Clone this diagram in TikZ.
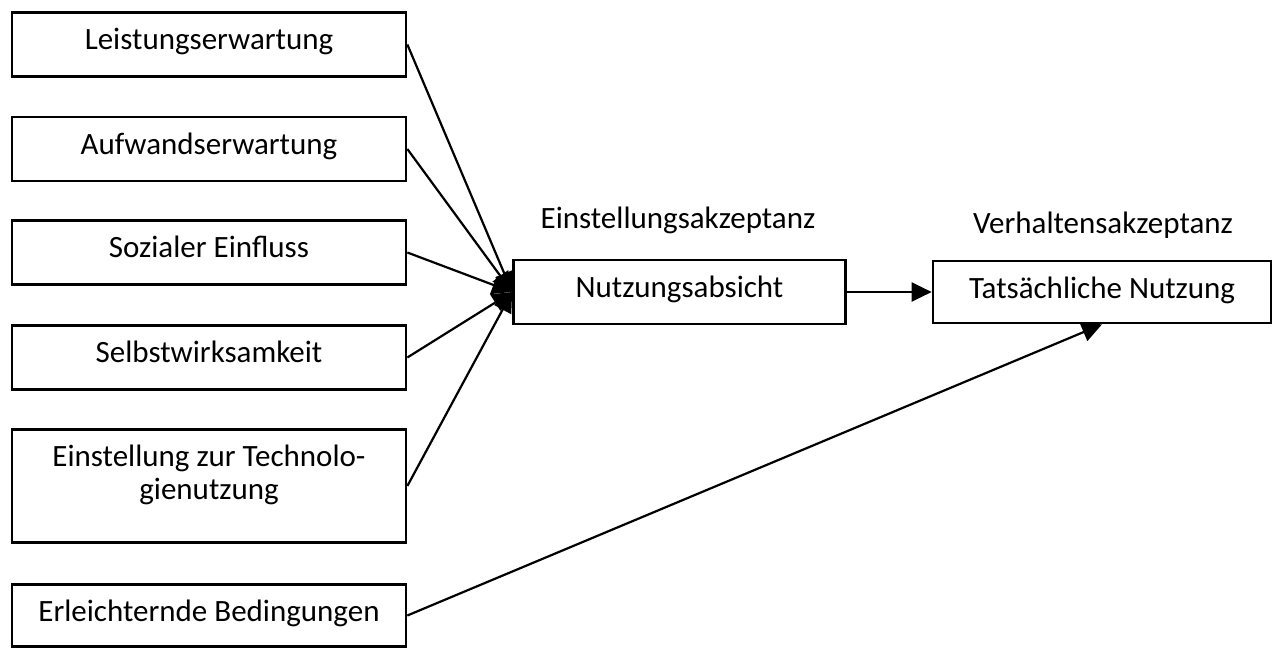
\documentclass[tikz,border=0pt]{standalone}
\usepackage{fontspec}
\setmainfont{Carlito}
\usetikzlibrary{arrows.meta,calc}
\begin{document}
\begin{tikzpicture}[x=1pt,y=-1pt,
  box/.style={draw=black,line width=2.7pt,fill=white,inner sep=0pt,minimum width=394pt,minimum height=64pt},
  txt/.style={inner sep=0pt,anchor=base,font=\fontsize{31}{33}\selectfont},
  arr/.style={line width=2.2pt,-{Triangle[length=20pt,width=19pt]}}]
\useasboundingbox (0,0) rectangle (1278,648);
% boxes
\node[box] (b1) at (209,44.5) {};
\node[box] (b2) at (209,149) {};
\node[box] (b3) at (209,252.5) {};
\node[box] (b4) at (209,357.5) {};
\node[box,minimum height=113pt] (b5) at (209,486) {};
\node[box,minimum height=62pt] (b6) at (209,615.5) {};
\node[box,minimum width=332pt] (nu) at (679.5,292) {};
\node[box,minimum width=338pt,minimum height=62pt] (tn) at (1102,292) {};
% texts
\node[txt] (t1) at ($(b1.north)+(0,38.5)$) {Leistungserwartung};
\node[txt] (t2) at ($(b2.north)+(0,38.5)$) {Aufwandserwartung};
\node[txt] (t3) at ($(b3.north)+(0,38.5)$) {Sozialer Einfluss};
\node[txt] (t4) at ($(b4.north)+(0,38.5)$) {Selbstwirksamkeit};
\node[txt] (t5a) at ($(b5.north)+(0,38.5)$) {Einstellung zur Technolo-};
\node[txt] (t5b) at ($(b5.north)+(0,71.5)$) {gienutzung};
\node[txt] (t6) at ($(b6.north)+(0,38.5)$) {Erleichternde Bedingungen};
\node[txt] (tnu) at ($(nu.north)+(0,38.5)$) {Nutzungsabsicht};
\node[txt] (ttn) at ($(tn.north)+(0,39)$) {Tatsächliche Nutzung};
\node[txt] (l1) at (678,228) {Einstellungsakzeptanz};
\node[txt] (l2) at (1103,233) {Verhaltensakzeptanz};
% connectors
\draw[arr] (b1.east) -- (nu.west);
\draw[arr] (b2.east) -- (nu.west);
\draw[arr] (b3.east) -- (nu.west);
\draw[arr] (b4.east) -- (nu.west);
\draw[arr] (b5.east) -- (nu.west);
\draw[arr] (nu.east) -- (tn.west);
\draw[arr] (b6.east) -- (tn.south);
\end{tikzpicture}
\end{document}
